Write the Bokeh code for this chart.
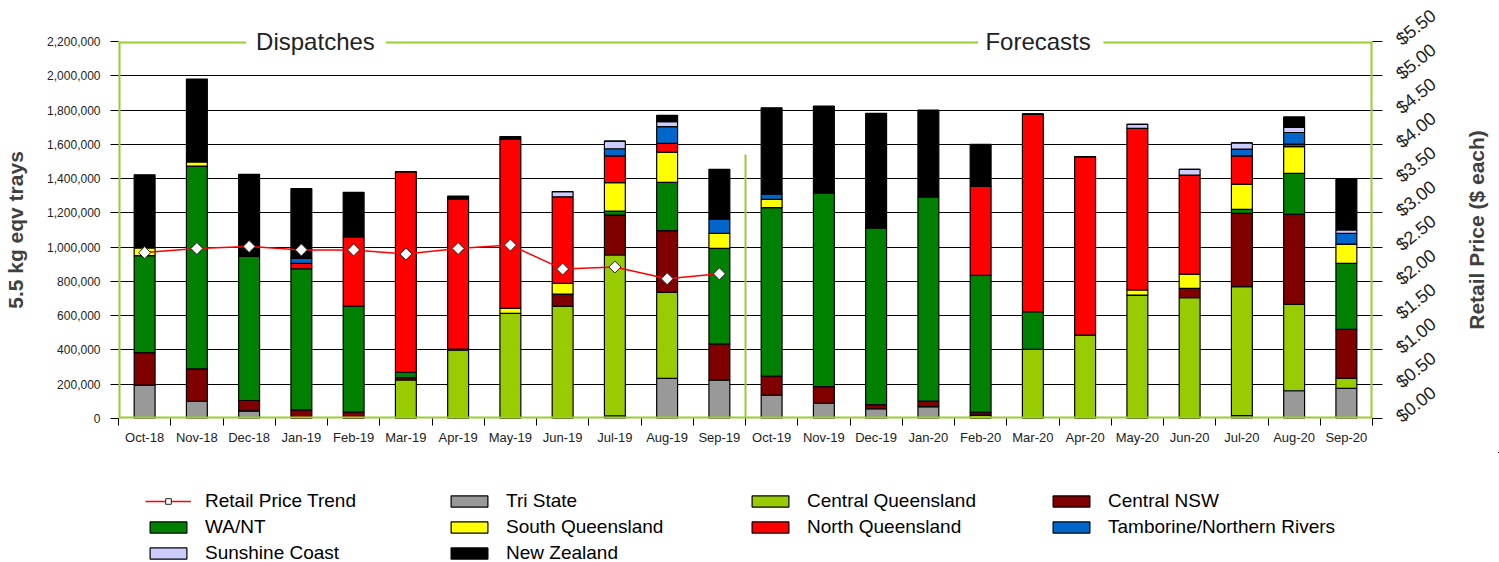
import math
from bokeh.plotting import figure
from bokeh.layouts import row, column
from bokeh.models import (Range1d, LinearAxis, FixedTicker, SingleIntervalTicker,
                          NumeralTickFormatter, Legend, LegendItem, ColumnDataSource)
from bokeh.embed import file_html
from bokeh.resources import INLINE

# ---------------- data (thousands of 5.5 kg eqv trays) ----------------
months = ["Oct-18", "Nov-18", "Dec-18", "Jan-19", "Feb-19", "Mar-19", "Apr-19", "May-19",
          "Jun-19", "Jul-19", "Aug-19", "Sep-19", "Oct-19", "Nov-19", "Dec-19", "Jan-20",
          "Feb-20", "Mar-20", "Apr-20", "May-20", "Jun-20", "Jul-20", "Aug-20", "Sep-20"]

tri_state = [195, 100, 45, 0, 0, 0, 0, 0, 0, 15, 234, 225,
             137, 88, 57, 69, 0, 0, 0, 0, 0, 17, 162, 176]
central_queensland = [0, 0, 0, 0, 0, 225, 400, 614, 656, 939, 502, 0,
                      0, 0, 0, 0, 20, 404, 487, 720, 705, 752, 504, 58]
central_nsw = [190, 190, 60, 50, 38, 13, 0, 0, 70, 233, 360, 210,
               111, 98, 24, 33, 16, 0, 0, 0, 54, 428, 525, 286]
wa_nt = [565, 1183, 843, 824, 618, 31, 5, 0, 0, 23, 282, 558,
         982, 1128, 1032, 1192, 799, 219, 0, 0, 0, 23, 239, 385]
south_queensland = [47, 26, 0, 0, 0, 0, 0, 29, 63, 166, 177, 87,
                    49, 0, 0, 0, 0, 0, 0, 30, 84, 148, 156, 113]
north_queensland = [0, 0, 0, 31, 405, 1171, 876, 986, 505, 157, 50, 0,
                    0, 0, 0, 0, 521, 1153, 1041, 943, 578, 165, 15, 0]
tamborine = [0, 0, 0, 30, 0, 0, 0, 0, 0, 41, 98, 84,
             31, 0, 0, 0, 0, 0, 0, 0, 0, 39, 68, 62]
sunshine_coast = [0, 0, 0, 0, 0, 0, 0, 0, 30, 45, 29, 0,
                  0, 0, 0, 0, 0, 0, 0, 23, 33, 37, 29, 20]
new_zealand = [425, 482, 477, 406, 259, 0, 17, 16, 0, 0, 37, 290,
               503, 509, 668, 506, 244, 0, 0, 0, 0, 0, 62, 297]

# retail price ($ each), dispatch months only
retail_price = [2.42, 2.48, 2.51, 2.46, 2.46, 2.40, 2.48, 2.53, 2.18, 2.21, 2.04, 2.11]

series_names = ["Tri State", "Central Queensland", "Central NSW", "WA/NT",
                "South Queensland", "North Queensland", "Tamborine/Northern Rivers",
                "Sunshine Coast", "New Zealand"]
series_values = [tri_state, central_queensland, central_nsw, wa_nt, south_queensland,
                 north_queensland, tamborine, sunshine_coast, new_zealand]
series_colors = ["#999999", "#99CC00", "#800000", "#008000", "#FFFF00",
                 "#FF0000", "#0066CC", "#CCCCFF", "#000000"]

section_titles = ["Dispatches", "Forecasts"]
section_title_x = [3.77, 17.6]
section_gaps = [(2.44, 5.12), (16.45, 18.85)]

Y_MAX = 2200000
PRICE_MAX = 5.5
divider_top = 1540000
FONT = "Liberation Sans"
GREEN = "#99CC33"
PRICE_RED = "#FF0000"

# ---------------- layout constants ----------------
TOP, LEFT, RIGHT = 41, 118, 88
FRAME_W, FRAME_H = 1254, 377
MAIN_H = 452
BOTTOM = MAIN_H - TOP - FRAME_H
LEGEND_H = 562 - MAIN_H

# ---------------- main chart ----------------
n = len(months)
centers = [i + 0.5 for i in range(n)]
keys = ["s%d" % i for i in range(len(series_names))]
data = {"x": centers}
for k, vals in zip(keys, series_values):
    data[k] = [v * 1000 for v in vals]
src = ColumnDataSource(data)
price_src = ColumnDataSource({"x": centers[:len(retail_price)], "price": retail_price})

p = figure(width=LEFT + FRAME_W + RIGHT, height=MAIN_H,
           x_range=Range1d(0, n), y_range=Range1d(0, Y_MAX),
           output_backend="svg", toolbar_location=None,
           min_border_left=LEFT, min_border_right=RIGHT, min_border_top=TOP,
           min_border_bottom=BOTTOM,
           background_fill_color="white", border_fill_color="white")
p.extra_y_ranges = {"price": Range1d(0, PRICE_MAX)}
xa = p.below[0]
ya = p.left[0]

p.outline_line_color = None
p.xgrid.visible = False
p.ygrid.ticker = FixedTicker(ticks=[200000 * i for i in range(1, 11)])
p.ygrid.grid_line_color = "black"
p.ygrid.grid_line_width = 1.2

bar_style = dict(line_color="black", line_width=1.2)
p.vbar_stack(keys, x="x", width=0.4, source=src, fill_color=series_colors, **bar_style)

# plot border (left, right, bottom) and the top border broken by the section titles
p.segment(x0=[0, n, 0], y0=[0, 0, 0], x1=[0, n, n], y1=[Y_MAX, Y_MAX, 0],
          line_color=GREEN, line_width=4)
starts = [0] + [g[1] for g in section_gaps]
ends = [g[0] for g in section_gaps] + [n]
p.segment(x0=starts, y0=[Y_MAX] * len(starts), x1=ends, y1=[Y_MAX] * len(ends),
          line_color=GREEN, line_width=4)

# divider between dispatches and forecasts
p.segment(x0=[len(retail_price)], y0=[0], x1=[len(retail_price)], y1=[divider_top],
          line_color=GREEN, line_width=2)

line_style = dict(line_color=PRICE_RED, line_width=1.5)
marker_style = dict(marker="square", angle=math.pi / 4, size=8.5, fill_color="white",
                    line_color="#222222", line_width=1)
p.line("x", "price", source=price_src, y_range_name="price", **line_style)
p.scatter("x", "price", source=price_src, y_range_name="price", **marker_style)

# left axis
ya.ticker = SingleIntervalTicker(interval=200000, num_minor_ticks=0)
ya.formatter = NumeralTickFormatter(format="0,0")
ya.axis_label = "5.5 kg eqv trays"
ya.axis_label_text_font = FONT
ya.axis_label_text_font_size = "21px"
ya.axis_label_text_font_style = "bold"
ya.axis_label_text_color = "#404040"
ya.axis_label_standoff = 17
ya.major_label_text_font = FONT
ya.major_label_text_font_size = "12px"
ya.major_label_text_color = "#222222"
ya.major_label_standoff = 10
ya.major_tick_out = 8
ya.major_tick_in = 0
ya.major_tick_line_color = "black"
ya.axis_line_color = None

# bottom axis
xa.ticker = FixedTicker(ticks=centers, minor_ticks=list(range(n + 1)))
xa.major_label_overrides = {c: m for c, m in zip(centers, months)}
xa.major_tick_out = 0
xa.major_tick_in = 0
xa.minor_tick_out = 7
xa.minor_tick_in = 0
xa.minor_tick_line_color = "black"
xa.major_label_text_font = FONT
xa.major_label_text_font_size = "13px"
xa.major_label_text_color = "#222222"
xa.major_label_standoff = 4
xa.axis_line_color = None

# right axis (price)
ra = LinearAxis(y_range_name="price",
                ticker=FixedTicker(ticks=[0.5 * i for i in range(12)]),
                formatter=NumeralTickFormatter(format="$0.00"))
ra.major_label_orientation = 0.68
ra.major_label_text_font = FONT
ra.major_label_text_font_size = "18px"
ra.major_label_text_color = "#222222"
ra.major_label_standoff = 16
ra.major_tick_out = 10
ra.major_tick_in = 0
ra.major_tick_line_color = "black"
ra.axis_line_color = None
p.add_layout(ra, "right")

# section titles: an axis above the frame whose labels sit on the top border
ta = LinearAxis(ticker=FixedTicker(ticks=section_title_x, minor_ticks=[]))
ta.major_label_overrides = {x: t for x, t in zip(section_title_x, section_titles)}
ta.major_label_text_font = FONT
ta.major_label_text_font_size = "24px"
ta.major_label_text_color = "#222222"
ta.major_label_standoff = -13
ta.major_tick_out = 0
ta.major_tick_in = 0
ta.minor_tick_out = 0
ta.minor_tick_in = 0
ta.axis_line_color = None
p.add_layout(ta, "above")

# ---------------- narrow figure carrying the right-hand axis title ----------------
p2 = figure(width=39, height=MAIN_H, x_range=Range1d(0, 1), y_range=Range1d(0, 1),
            output_backend="svg", toolbar_location=None,
            min_border_left=38, min_border_right=0, min_border_top=TOP,
            min_border_bottom=BOTTOM,
            background_fill_color="white", border_fill_color="white")
p2.outline_line_color = None
p2.grid.visible = False
p2.xaxis.visible = False
a2 = p2.left[0]
a2.ticker = FixedTicker(ticks=[])
a2.major_tick_out = 0
a2.major_tick_in = 0
a2.minor_tick_out = 0
a2.axis_line_color = None
a2.axis_label = "Retail Price ($ each)"
a2.axis_label_text_font = FONT
a2.axis_label_text_font_size = "21px"
a2.axis_label_text_font_style = "bold"
a2.axis_label_text_color = "#404040"
a2.axis_label_standoff = 11

# ---------------- legend strip (proxies share the chart's data, drawn off-view) --------
p3 = figure(width=LEFT + FRAME_W + RIGHT + 39, height=LEGEND_H,
            x_range=Range1d(-3, -2), y_range=Range1d(-3, -2),
            output_backend="svg", toolbar_location=None,
            min_border_left=0, min_border_right=0, min_border_top=0, min_border_bottom=0,
            background_fill_color="white", border_fill_color="white")
p3.outline_line_color = None
p3.grid.visible = False
p3.axis.visible = False
leg_line = p3.line("x", "price", source=price_src, **line_style)
leg_mark = p3.scatter("x", "price", source=price_src, **marker_style)
leg_bars = p3.vbar_stack(keys, x="x", width=0.4, source=src, fill_color=series_colors,
                         **bar_style)
items = [LegendItem(label="Retail Price Trend", renderers=[leg_line, leg_mark])]
items += [LegendItem(label=nm, renderers=[r]) for nm, r in zip(series_names, leg_bars)]
legend = Legend(items=items, location=(LEFT + 27, -2), orientation="horizontal", ncols=4,
                glyph_width=46, glyph_height=14, label_standoff=14, label_width=237,
                spacing=4, padding=0, margin=0, border_line_color=None,
                background_fill_alpha=0, label_text_font=FONT, label_text_font_size="19px",
                label_text_color="black")
p3.add_layout(legend)

layout = column(row(p, p2), p3)
open("out.html", "w").write(file_html(layout, INLINE))
